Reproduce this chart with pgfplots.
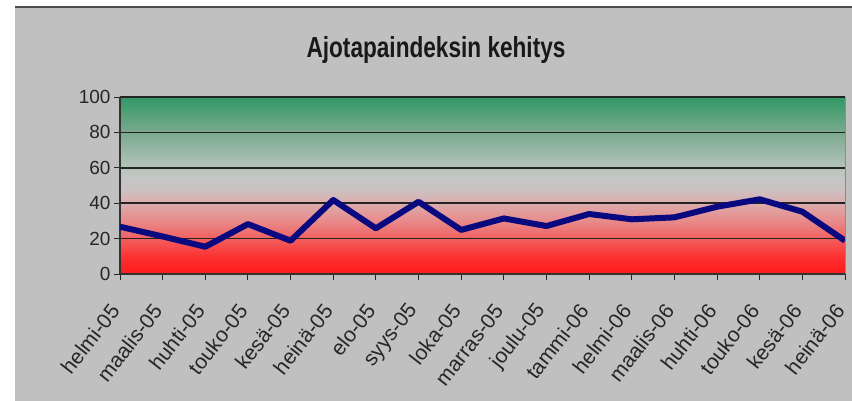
\documentclass[border=0pt]{standalone}
\usepackage{fontspec}
\setmainfont{Liberation Sans}
\newfontfamily\titlefont[FakeStretch=0.78]{Liberation Sans}
\usepackage{pgfplots}
\pgfplotsset{compat=1.18}
\definecolor{panelgrey}{RGB}{192,192,192}
\definecolor{navyline}{RGB}{10,10,128}
\definecolor{gridc}{RGB}{35,35,35}
\definecolor{c0}{RGB}{255,25,25}
\definecolor{c10}{RGB}{251,50,50}
\definecolor{c20}{RGB}{242,95,95}
\definecolor{c30}{RGB}{232,138,138}
\definecolor{c40}{RGB}{220,172,172}
\definecolor{c48}{RGB}{204,194,194}
\definecolor{c54}{RGB}{196,199,197}
\definecolor{c60}{RGB}{182,195,186}
\definecolor{c80}{RGB}{122,170,142}
\definecolor{c100}{RGB}{50,152,102}
\pgfdeclareverticalshading{rg}{100bp}{color(0bp)=(c0); color(25bp)=(c0); color(30bp)=(c10); color(35bp)=(c20); color(40bp)=(c30); color(45bp)=(c40); color(49bp)=(c48); color(52bp)=(c54); color(55bp)=(c60); color(65bp)=(c80); color(75bp)=(c100); color(100bp)=(c100)}
\pgfplotstableread{
x y
0 26.7
1 21.2
2 15.4
3 28.2
4 18.8
5 41.8
6 25.8
7 40.8
8 24.9
9 31.4
10 27.1
11 33.9
12 30.9
13 32.0
14 38.0
15 42.2
16 35.2
17 18.8
}\datatable
\begin{document}
\begin{tikzpicture}[x=1pt,y=1pt]
\useasboundingbox (-120,-127) rectangle (732,274);
\fill[white] (-120,-127) rectangle (732,274);
\fill[panelgrey] (-105,-127) rectangle (732,266);
\fill[black!70] (-105,266) rectangle (732,268);
\begin{axis}[
  at={(0,0)}, anchor=south west,
  width=725pt, height=177pt, scale only axis,
  xmin=0, xmax=17, ymin=0, ymax=100,
  axis background/.style={shading=rg},
  axis lines*=left,
  axis line style={black!80, line width=1.3pt},
  tick align=outside,
  major tick length=6pt,
  tick style={black!85, line width=0.9pt},
  ytick={0,20,...,100},
  ymajorgrids,
  grid style={gridc, line width=1.6pt},
  xtick={0,...,17},
  xticklabels={helmi-05,maalis-05,huhti-05,touko-05,kesä-05,heinä-05,elo-05,syys-05,loka-05,marras-05,joulu-05,tammi-06,helmi-06,maalis-06,huhti-06,touko-06,kesä-06,heinä-06},
  /pgf/number format/assume math mode=true,
  yticklabel style={font=\fontsize{19}{19}\selectfont, text=black!85},
  xticklabel style={font=\fontsize{21}{21}\selectfont, text=black!85, inner sep=0pt, yshift=-27pt, xshift=-5pt, rotate=52, anchor=east},
]
\addplot[navyline, line width=6pt, line join=round, mark=none] table[x=x,y=y] {\datatable};
\end{axis}
\draw[black!45, line width=0.8pt] (725,0) -- (725,177);
\node[anchor=base, font=\titlefont\bfseries\fontsize{29}{30}\selectfont, text=black!90] at (316,216) {Ajotapaindeksin kehitys};
\end{tikzpicture}
\end{document}
